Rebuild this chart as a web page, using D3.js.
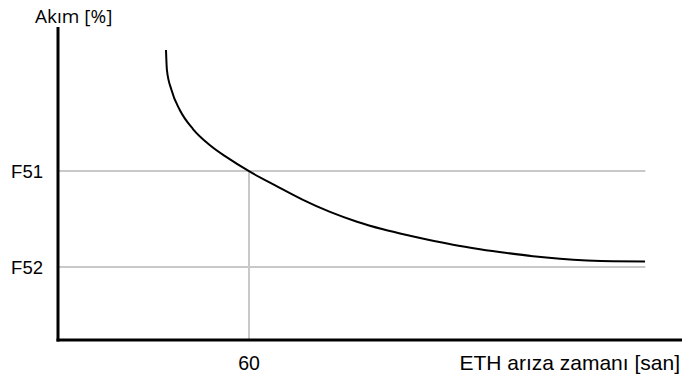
<!DOCTYPE html>
<html><head><meta charset="utf-8">
<script src="https://cdn.jsdelivr.net/npm/d3@7"></script>
<style>body{margin:0;background:#fff}svg{display:block}</style>
</head><body>
<script>
// Data (x: seconds, y: relative current, axis bottom = 0)
const curveT = [33.92, 34.21, 35.65, 38.26, 42.40, 47.74, 53.08, 60, 68.79, 76.95, 85.44, 93.92, 102.08, 110.56, 115.90, 124.07, 132.55, 141.03, 149.20, 157.68, 166.16, 174.32, 184.37];
const curveI = [92.65, 86.26, 79.87, 73.48, 67.41, 62.24, 58.34, 53.93, 49.11, 44.79, 40.93, 37.80, 35.37, 33.29, 32.08, 30.42, 29.01, 27.80, 26.77, 25.97, 25.43, 25.14, 25.05];
const levelLabels = ["F51", "F52"];
const levelValues = [54.0, 23.3];
const xTickValues = [60];
const xTickLabels = ["60"];
const gridEnd = 184.5;
const xTitle = "ETH arıza zamanı [san]";
const yTitle = "Akım [%]";

const W = 682, H = 383;
const svg = d3.select("body").append("svg").attr("width", W).attr("height", H);
const x = d3.scaleLinear().domain([0, 196]).range([58, 682]);
const y = d3.scaleLinear().domain([0, 100]).range([340, 27]);

const font = "Liberation Sans, Arial, sans-serif";

// grid lines
const g = svg.append("g").attr("stroke", "#c8c8c8").attr("stroke-width", 2).attr("fill", "none");
levelValues.forEach(v => {
  g.append("line").attr("x1", x(0)).attr("x2", x(gridEnd)).attr("y1", y(v)).attr("y2", y(v));
});
g.append("line").attr("x1", x(xTickValues[0])).attr("x2", x(xTickValues[0]))
  .attr("y1", y(levelValues[0])).attr("y2", y(0));

// curve
const pts = curveT.map((t, i) => [t, curveI[i]]);
svg.append("path").datum(pts)
  .attr("d", d3.line().x(d => x(d[0])).y(d => y(d[1])).curve(d3.curveMonotoneX))
  .attr("fill", "none").attr("stroke", "#000").attr("stroke-width", 2);

// axes
svg.append("line").attr("x1", x(0)).attr("x2", x(0)).attr("y1", y(100)).attr("y2", y(0) + 1.5)
  .attr("stroke", "#000").attr("stroke-width", 3);
svg.append("line").attr("x1", x(0) - 1.5).attr("x2", x(196)).attr("y1", y(0)).attr("y2", y(0))
  .attr("stroke", "#000").attr("stroke-width", 3);

// labels
levelLabels.forEach((l, i) => {
  svg.append("text").attr("x", 43).attr("y", y(levelValues[i])).attr("dy", "0.36em")
    .attr("text-anchor", "end").attr("font-family", font).attr("font-size", 18.5).text(l);
});
xTickValues.forEach((v, i) => {
  svg.append("text").attr("x", x(v)).attr("y", 370).attr("text-anchor", "middle")
    .attr("font-family", font).attr("font-size", 19.5).text(xTickLabels[i]);
});
svg.append("text").attr("x", 680).attr("y", 370).attr("text-anchor", "end")
  .attr("font-family", font).attr("font-size", 21).text(xTitle);
svg.append("text").attr("x", 35).attr("y", 23).attr("text-anchor", "start")
  .attr("font-family", "Open Sans, Noto Sans, sans-serif").attr("font-size", 19).text(yTitle);
</script>
</body></html>
